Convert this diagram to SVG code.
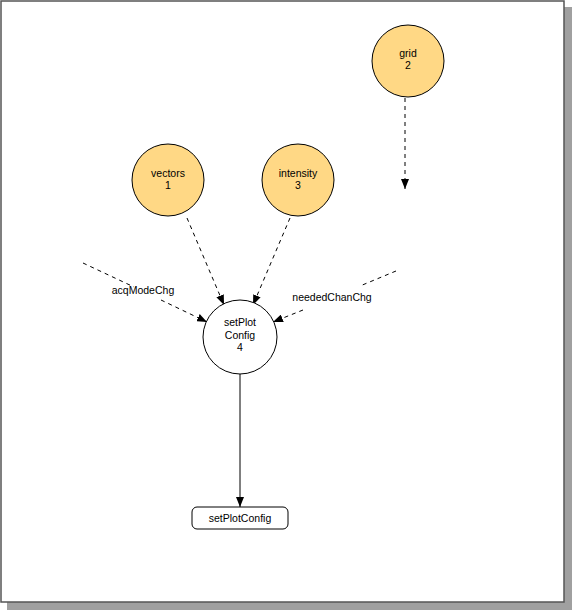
<svg xmlns="http://www.w3.org/2000/svg" width="572" height="610" viewBox="0 0 572 610">
  <style>
    .lbl { font-family: "Liberation Sans", Arial, sans-serif; font-size: 10.5px; fill: #000; text-anchor: middle; }
    .proc { fill: #ffd885; stroke: #000; stroke-width: 1; }
    .main { fill: #fff; stroke: #000; stroke-width: 1; }
    .flow { fill: none; stroke: #000; stroke-width: 1; stroke-dasharray: 4 4; }
    .solid { fill: none; stroke: #000; stroke-width: 1; }
  </style>
  <defs>
    <marker id="arrow" viewBox="0 0 10 8" refX="10" refY="4" markerWidth="10" markerHeight="8" markerUnits="userSpaceOnUse" orient="auto">
      <path d="M0,0 L10,4 L0,8 Z" fill="#000"/>
    </marker>
  </defs>

  <!-- page frame with drop shadow -->
  <rect x="7" y="7" width="565" height="603" fill="#a0a0a0"/>
  <rect x="1" y="1" width="563" height="601" fill="#fff" stroke="#555" stroke-width="1.5"/>

  <!-- connectors -->
  <g id="connectors">
    <line class="flow" x1="187" y1="218" x2="224" y2="305" marker-end="url(#arrow)"/>
    <line class="flow" x1="290" y1="218" x2="253" y2="305" marker-end="url(#arrow)"/>
    <line class="flow" x1="405" y1="98" x2="405" y2="189" marker-end="url(#arrow)"/>
    <line class="flow" x1="83" y1="263" x2="134" y2="287"/>
    <line class="flow" x1="161" y1="300" x2="207" y2="322" marker-end="url(#arrow)"/>
    <line class="flow" x1="396" y1="271" x2="360" y2="286"/>
    <line class="flow" x1="303" y1="310" x2="273" y2="322" marker-end="url(#arrow)"/>
    <line class="solid" x1="240" y1="374" x2="240" y2="507" marker-end="url(#arrow)"/>
    <text class="lbl" x="143" y="294">acqModeChg</text>
    <text class="lbl" x="332" y="301">neededChanChg</text>
  </g>

  <g id="vectors">
    <circle class="proc" cx="168" cy="180" r="36"/>
    <text class="lbl" x="168" y="177">vectors</text>
    <text class="lbl" x="168" y="189">1</text>
  </g>

  <g id="intensity">
    <circle class="proc" cx="298" cy="180" r="36"/>
    <text class="lbl" x="298" y="177">intensity</text>
    <text class="lbl" x="298" y="189">3</text>
  </g>

  <g id="grid">
    <circle class="proc" cx="408" cy="61" r="36"/>
    <text class="lbl" x="408" y="57">grid</text>
    <text class="lbl" x="408" y="69">2</text>
  </g>

  <g id="setPlotConfig">
    <circle class="main" cx="240" cy="337" r="37"/>
    <text class="lbl" x="240" y="326">setPlot</text>
    <text class="lbl" x="240" y="339">Config</text>
    <text class="lbl" x="240" y="351">4</text>
  </g>

  <g id="setPlotConfigOut">
    <rect class="main" x="192" y="507" width="96" height="22" rx="5" ry="5"/>
    <text class="lbl" x="240" y="522">setPlotConfig</text>
  </g>
</svg>
